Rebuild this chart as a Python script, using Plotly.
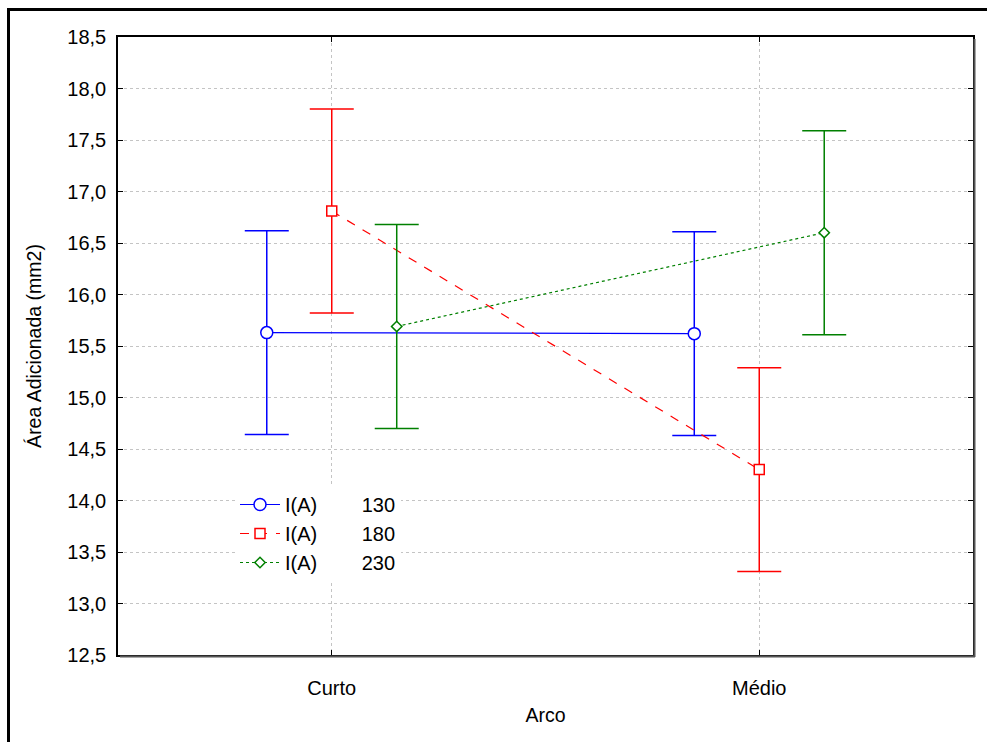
import plotly.graph_objects as go

categories = ["Curto", "Médio"]
series_names = ["130", "180", "230"]
means = {
    "130": [15.63, 15.62],
    "180": [16.81, 14.30],
    "230": [15.69, 16.60],
}
half_ci = {
    "130": [0.99, 0.99],
    "180": [0.99, 0.99],
    "230": [0.99, 0.99],
}

colors = {"130": "#0000ff", "180": "#ff0000", "230": "#008000"}
dashes = {"130": "solid", "180": "dash", "230": "dot"}
symbols = {"130": "circle", "180": "square", "230": "diamond"}
msizes = {"130": 12, "180": 10, "230": 8}
offsets = {"130": -0.152, "180": 0.0, "230": 0.152}

FONT = "Liberation Sans, Arial, sans-serif"
NB = "\u00a0"

fig = go.Figure()
for s in series_names:
    xs = [i + offsets[s] for i in range(len(categories))]
    fig.add_trace(go.Scatter(
        x=xs, y=means[s], mode="lines+markers",
        name="I(A)" + NB * 8 + s,
        line=dict(color=colors[s], width=1.2, dash=dashes[s]),
        marker=dict(symbol=symbols[s], size=msizes[s], color="white",
                    line=dict(color=colors[s], width=1.5)),
        error_y=dict(type="data", array=half_ci[s], visible=True,
                     color=colors[s], thickness=1.5, width=22),
    ))

W, H = 987, 742
L, R, T, B = 118, 14, 37, 87
pw, ph = W - L - R, H - T - B

def px(x):
    return (x - L) / pw

def py(y):
    return (H - B - y) / ph

shapes = [
    dict(type="rect", xref="paper", yref="paper", x0=px(8.5), x1=px(992), y0=py(9.5), y1=py(760),
         line=dict(color="black", width=3), fillcolor="rgba(0,0,0,0)", layer="above"),
    dict(type="line", xref="paper", yref="paper", x0=px(974.5), x1=px(974.5), y0=py(39), y1=py(657),
         line=dict(color="#555555", width=2)),
    dict(type="line", xref="paper", yref="paper", x0=px(120), x1=px(975), y0=py(656.5), y1=py(656.5),
         line=dict(color="#555555", width=2)),
]

fig.update_layout(
    width=W, height=H,
    margin=dict(l=L, r=R, t=T, b=B),
    paper_bgcolor="white", plot_bgcolor="white",
    separators=",.",
    font=dict(family=FONT, size=20, color="black"),
    showlegend=True,
    legend=dict(x=px(235), y=py(485), xanchor="left", yanchor="top",
                bgcolor="white", font=dict(size=20), itemwidth=40,
                tracegroupgap=0),
    shapes=shapes,
)
fig.update_xaxes(
    range=[-0.5, 1.5], tickmode="array", tickvals=list(range(len(categories))), ticktext=categories,
    showline=True, linecolor="black", linewidth=1.5, mirror="ticks",
    ticks="inside", ticklen=5, tickcolor="black", tickfont=dict(size=20),
    ticklabelstandoff=14,
    showgrid=True, gridcolor="#c4c4c4", griddash="dot", gridwidth=1,
    zeroline=False, title=dict(text="Arco", standoff=11, font=dict(size=19.5)),
)
fig.update_yaxes(
    range=[12.5, 18.5], tickmode="linear", tick0=12.5, dtick=0.5, tickformat=".1f",
    showline=True, linecolor="black", linewidth=1.5, mirror="ticks",
    ticks="inside", ticklen=5, tickcolor="black", tickfont=dict(size=20),
    ticklabelstandoff=6,
    showgrid=True, gridcolor="#c4c4c4", griddash="dot", gridwidth=1,
    zeroline=False, title=dict(text="Área Adicionada (mm2)", standoff=20, font=dict(size=19.5)),
)

fig.write_html("out.html")
